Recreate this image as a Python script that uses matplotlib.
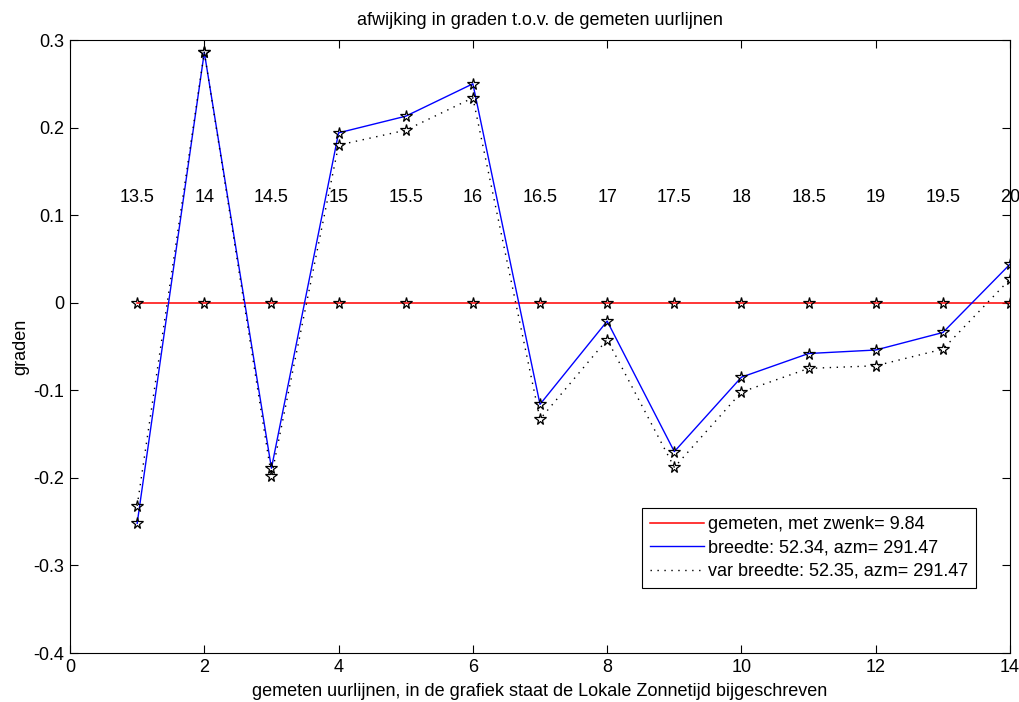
import numpy as np
import matplotlib.pyplot as plt

plt.rcParams['font.family'] = ['Liberation Sans', 'DejaVu Sans']

# uurlijnen en lokale zonnetijd
uurlijn = np.arange(1, 15)
zonnetijd = ['13.5', '14', '14.5', '15', '15.5', '16', '16.5', '17', '17.5',
             '18', '18.5', '19', '19.5', '20']

gemeten = [0, 0, 0, 0, 0, 0, 0, 0, 0, 0, 0, 0, 0, 0]
breedte = [-0.252, 0.286, -0.189, 0.194, 0.213, 0.250, -0.116,
           -0.021, -0.170, -0.085, -0.058, -0.054, -0.034, 0.044]
var_breedte = [-0.232, 0.286, -0.198, 0.180, 0.197, 0.234, -0.133,
               -0.042, -0.188, -0.102, -0.075, -0.072, -0.053, 0.027]

label_gemeten = 'gemeten, met zwenk= 9.84'
label_breedte = 'breedte: 52.34, azm= 291.47'
label_var = 'var breedte: 52.35, azm= 291.47'

fs = 13

fig = plt.figure(figsize=(10.19, 7.02), dpi=100)
ax = fig.add_axes([0.0687, 0.0698, 0.9225, 0.8732])

ax.plot(uurlijn, gemeten, color='red', lw=1.1, label=label_gemeten)
ax.plot(uurlijn, breedte, color='blue', lw=1.0, label=label_breedte)
ax.plot(uurlijn, var_breedte, color='black', lw=1.0,
        linestyle=(0, (1, 4)), label=label_var)

# sterren apart, niet in de legenda
for serie in [gemeten, breedte, var_breedte]:
    ax.plot(uurlijn, serie, linestyle='none', marker='*', markersize=8.5,
            markerfacecolor='none', markeredgecolor='black', markeredgewidth=0.9)

for x, t in zip(uurlijn, zonnetijd):
    ax.text(x, 0.12, t, ha='center', va='center', fontsize=fs)

ax.set_xlim(0, 14)
ax.set_ylim(-0.4, 0.3)
ax.set_xticks(np.arange(0, 15, 2))
ax.set_yticks(np.arange(-0.4, 0.31, 0.1))
ax.set_yticklabels(['-0.4', '-0.3', '-0.2', '-0.1', '0', '0.1', '0.2', '0.3'])
ax.tick_params(direction='in', top=True, right=True, labelsize=fs, length=6, pad=4)

ax.set_title('afwijking in graden t.o.v. de gemeten uurlijnen', fontsize=fs, pad=11)
ax.set_xlabel('gemeten uurlijnen, in de grafiek staat de Lokale Zonnetijd bijgeschreven',
              fontsize=fs, labelpad=5)
ax.set_ylabel('graden', fontsize=fs, labelpad=3)

leg = ax.legend(loc='lower right', bbox_to_anchor=(0.964, 0.106), borderaxespad=0,
                fontsize=fs, fancybox=False, edgecolor='black', framealpha=1,
                handlelength=3.0, handletextpad=0.2, borderpad=0.45, labelspacing=0.35)
leg.get_frame().set_linewidth(0.8)

plt.savefig('out.png', dpi=100)
